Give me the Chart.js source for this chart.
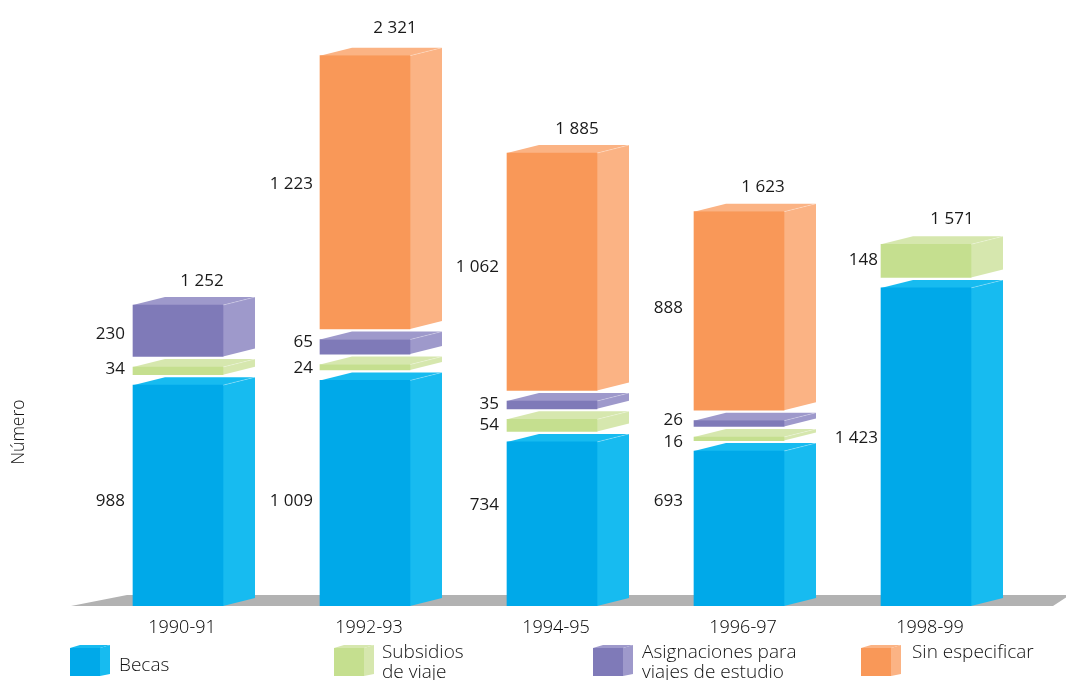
<!DOCTYPE html>
<html>
<head>
<meta charset="utf-8">
<title>Número</title>
<script src="https://cdn.jsdelivr.net/npm/chart.js@4"></script>
<style>
    html, body { margin: 0; padding: 0; background: #fff; }
    #wrap { position: relative; width: 1066px; height: 680px; overflow: hidden; }
</style>
</head>
<body>
<div id="wrap"><canvas id="chart" width="1066" height="680"></canvas></div>
<script>
const years = ["1990-91", "1992-93", "1994-95", "1996-97", "1998-99"];
const becas = [988, 1009, 734, 693, 1423];
const subsidios = [34, 24, 54, 16, 148];
const asignaciones = [230, 65, 35, 26, null];
const sinEspecificar = [null, 1223, 1062, 888, null];
const totales = ["1 252", "2 321", "1 885", "1 623", "1 571"];

const FONT = '"Open Sans", sans-serif';
const GAP = 47;          // blank between two slices, in units of the axis
const DX = 32, DY = 8;   // depth of the boxes

// hand placed labels in the original, px from the middle of the slice
const shiftBecas = [6, 8, -19, -27, -9];
const shiftSubsidios = [-2, 1, 0, 3, -1];
const shiftAsignaciones = [3, -5, -1, -3, 0];
const shiftSin = [0, -8, -5, -3, 0];
const valueGapX = [8, 7, 8, 11, 3];
const totalShiftX = [24, 30, 25, 24, 26];
const totalShiftY = [16, 20, 16, 17, 17];

const series = [
    { label: "Becas", values: becas, front: "#00a9e9", side: "#17bbf0", shift: shiftBecas, legend: ["Becas"], lx: 70, tx: 119, ty: 666 },
    { label: "Subsidios de viaje", values: subsidios, front: "#c5df8f", side: "#d6e7ae", shift: shiftSubsidios, legend: ["Subsidios", "de viaje"], lx: 334, tx: 382, ty: 653 },
    { label: "Asignaciones para viajes de estudio", values: asignaciones, front: "#7f7ab8", side: "#9e99cb", shift: shiftAsignaciones, legend: ["Asignaciones para", "viajes de estudio"], lx: 593, tx: 642, ty: 653 },
    { label: "Sin especificar", values: sinEspecificar, front: "#f99858", side: "#fbb384", shift: shiftSin, legend: ["Sin especificar"], lx: 861, tx: 912, ty: 653 }
];

// every slice floats on top of the one under it, with a gap between
function slices() {
    const tops = years.map(() => 0);
    return series.map((s, si) => s.values.map((v, i) => {
        if (v === null) return null;
        const start = si === 0 ? 0 : tops[i] + GAP;
        tops[i] = start + v;
        return [start, tops[i]];
    }));
}

function box(ctx, points, color) {
    ctx.fillStyle = color;
    ctx.beginPath();
    points.forEach((p, i) => i ? ctx.lineTo(p[0], p[1]) : ctx.moveTo(p[0], p[1]));
    ctx.closePath();
    ctx.fill();
}

const depth = {
    id: "depth",
    beforeDatasetsDraw(chart) {
        const ctx = chart.ctx;
        const floor = chart.scales.y.getPixelForValue(0);
        box(ctx, [[71, floor], [127, floor - 11], [1070, floor - 11], [1053, floor]], "#b2b2b2");

        series.forEach((s, si) => {
            chart.getDatasetMeta(si).data.forEach((bar, i) => {
                if (s.values[i] === null) return;
                const l = bar.x - bar.width / 2, r = bar.x + bar.width / 2;
                const top = bar.y, bot = bar.base;
                box(ctx, [[r, bot], [r + DX, bot - DY], [r + DX, top - DY], [r, top]], s.side);
                box(ctx, [[l, top], [l + DX, top - DY], [r + DX, top - DY], [r, top]], s.side);
                ctx.strokeStyle = "rgba(255,255,255,0.25)";
                ctx.beginPath();
                ctx.moveTo(r, top);
                ctx.lineTo(r + DX, top - DY);
                ctx.stroke();
            });
        });
    }
};

const texts = {
    id: "texts",
    afterDatasetsDraw(chart) {
        const ctx = chart.ctx;
        ctx.save();
        ctx.font = "17px " + FONT;
        ctx.fillStyle = "#1a1a1a";
        ctx.textBaseline = "middle";

        // value beside each slice
        ctx.textAlign = "right";
        series.forEach((s, si) => {
            chart.getDatasetMeta(si).data.forEach((bar, i) => {
                if (s.values[i] === null) return;
                const txt = s.values[i] >= 1000 ? String(s.values[i]).replace(/(\d)(\d{3})$/, "$1 $2") : String(s.values[i]);
                ctx.fillText(txt, bar.x - bar.width / 2 - valueGapX[i], (bar.y + bar.base) / 2 + s.shift[i]);
            });
        });

        // total above each column
        ctx.textAlign = "center";
        totales.forEach((t, i) => {
            let top = null, x = 0;
            series.forEach((s, si) => {
                if (s.values[i] === null) return;
                const bar = chart.getDatasetMeta(si).data[i];
                top = bar.y;
                x = bar.x;
            });
            ctx.fillText(t, x + totalShiftX[i], top - DY - totalShiftY[i]);
        });

        // axis name
        ctx.save();
        ctx.translate(19, 432);
        ctx.rotate(-Math.PI / 2);
        ctx.font = "300 17.5px " + FONT;
        ctx.fillStyle = "#111";
        ctx.fillText("Número", 0, 0);
        ctx.restore();

        // legend
        ctx.textAlign = "left";
        ctx.font = "300 19px " + FONT;
        series.forEach(s => {
            box(ctx, [[s.lx + 30, 676], [s.lx + 40, 674], [s.lx + 40, 645], [s.lx + 30, 648]], s.side);
            box(ctx, [[s.lx, 648], [s.lx + 10, 645], [s.lx + 40, 645], [s.lx + 30, 648]], s.side);
            box(ctx, [[s.lx, 648], [s.lx + 30, 648], [s.lx + 30, 676], [s.lx, 676]], s.front);
            ctx.fillStyle = "#111";
            s.legend.forEach((line, n) => ctx.fillText(line, s.tx, s.ty + n * 20));
        });
        ctx.restore();
    }
};

const floating = slices();

new Chart(document.getElementById("chart"), {
    type: "bar",
    data: {
        labels: years,
        datasets: series.map((s, si) => ({
            label: s.label,
            data: floating[si],
            backgroundColor: s.front,
            borderWidth: 0,
            barThickness: 90,
            grouped: false
        }))
    },
    options: {
        responsive: false,
        animation: false,
        layout: { padding: { left: 84.5, right: 46.5, top: 0, bottom: 0 } },
        plugins: { legend: { display: false }, tooltip: { enabled: false }, title: { display: false } },
        scales: {
            x: {
                grid: { display: false },
                border: { display: false },
                afterFit(scale) { scale.height = 74; },
                ticks: { color: "#000", font: { family: FONT, size: 18, weight: "300" }, padding: 3, maxRotation: 0, labelOffset: 4 }
            },
            y: {
                display: false,
                min: 0,
                max: 2711
            }
        }
    },
    plugins: [depth, texts]
});
</script>
</body>
</html>
